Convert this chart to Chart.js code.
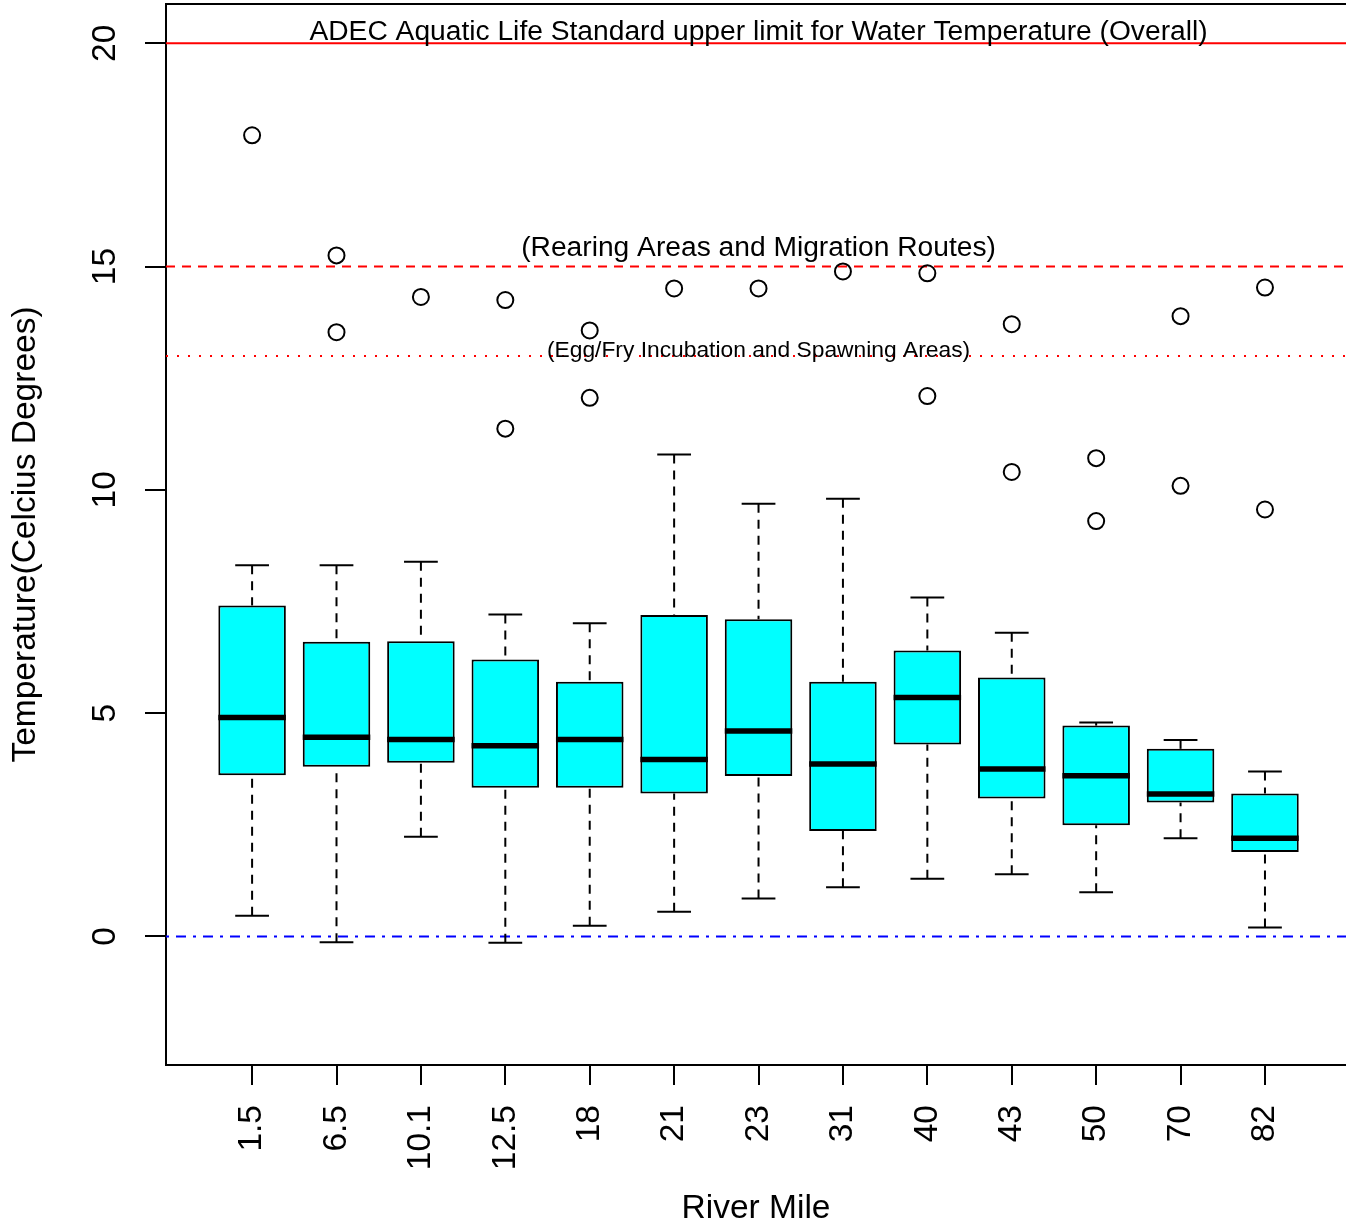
<!DOCTYPE html>
<html>
<head>
<meta charset="utf-8">
<script src="https://cdn.jsdelivr.net/npm/chart.js@4.4.1/dist/chart.umd.min.js"></script>
<style>
html,body{margin:0;padding:0;background:#fff;overflow:hidden;}
#wrap{width:1346px;height:1231px;}
canvas{display:block;}
</style>
</head>
<body>
<div id="wrap"><canvas id="c" width="1346" height="1231"></canvas></div>
<script>
// ---- data ----
const riverMiles  = ['1.5','6.5','10.1','12.5','18','21','23','31','40','43','50','70','82'];
const whiskerLow  = [0.46, -0.13, 2.23, -0.14, 0.24, 0.55, 0.85, 1.10, 1.29, 1.39, 0.99, 2.20, 0.20];
const q1          = [3.61, 3.80, 3.89, 3.33, 3.33, 3.20, 3.59, 2.36, 4.30, 3.09, 2.49, 3.00, 1.89];
const median      = [4.90, 4.46, 4.41, 4.27, 4.41, 3.96, 4.60, 3.86, 5.35, 3.75, 3.60, 3.19, 2.20];
const q3          = [7.41, 6.60, 6.61, 6.20, 5.70, 7.20, 7.10, 5.70, 6.40, 5.80, 4.72, 4.20, 3.20];
const whiskerHigh = [8.31, 8.31, 8.39, 7.21, 7.01, 10.79, 9.69, 9.80, 7.59, 6.80, 4.79, 4.40, 3.69];
const outliers    = [[17.94],[15.25,13.53],[14.32],[14.25,11.37],[13.57,12.06],[14.51],[14.51],
                     [14.89],[14.85,12.10],[13.71,10.40],[10.71,9.30],[13.89,10.09],[14.53,9.56]];
const yTickValues = [0, 5, 10, 15, 20];
const refValues   = [20, 15, 13, 0];
const refLabels   = ['ADEC Aquatic Life Standard upper limit for Water Temperature (Overall)',
                     '(Rearing Areas and Migration Routes)',
                     '(Egg/Fry Incubation and Spawning Areas)'];
const xTitle = 'River Mile';
const yTitle = 'Temperature(Celcius Degrees)';

// ---- build datasets from the arrays ----
const X_MIN = -0.02, X_MAX = 13.96;
const FONT = "'Liberation Sans', Arial, Helvetica, sans-serif";

const boxData = riverMiles.map((m, i) => ({x: i + 1, y: [q1[i], q3[i]]}));
const outlierData = [];
outliers.forEach((arr, i) => arr.forEach(v => outlierData.push({x: i + 1, y: v})));
const refLine = v => [{x: X_MIN, y: v}, {x: X_MAX, y: v}];

const extras = {
  id: 'extras',
  afterDatasetsDraw(chart) {
    const {ctx, scales: {x, y}, chartArea: a} = chart;
    const meta = chart.getDatasetMeta(0);
    ctx.save();
    ctx.strokeStyle = '#000';
    ctx.lineCap = 'butt';
    const seg = (x1, y1, x2, y2) => { ctx.beginPath(); ctx.moveTo(x1, y1); ctx.lineTo(x2, y2); ctx.stroke(); };
    riverMiles.forEach((m, i) => {
      const cx = x.getPixelForValue(i + 1);
      const half = meta.data[i].width / 2;
      const yLo = y.getPixelForValue(whiskerLow[i]);
      const yHi = y.getPixelForValue(whiskerHigh[i]);
      const yQ1 = y.getPixelForValue(q1[i]);
      const yQ3 = y.getPixelForValue(q3[i]);
      const yMed = y.getPixelForValue(median[i]);
      ctx.lineWidth = 2;
      ctx.setLineDash([9, 7]);
      seg(cx, yHi, cx, yQ3);
      seg(cx, yLo, cx, yQ1);
      ctx.setLineDash([]);
      seg(cx - half / 2, yHi, cx + half / 2, yHi);
      seg(cx - half / 2, yLo, cx + half / 2, yLo);
      ctx.lineWidth = 5.5;
      seg(cx - half, yMed, cx + half, yMed);
    });
    // top frame line
    ctx.lineWidth = 2;
    seg(a.left - 1, a.top, chart.width, a.top);
    ctx.restore();
  },
  afterDraw(chart) {
    const {ctx, scales: {x, y}} = chart;
    const cx = x.getPixelForValue((1 + riverMiles.length) / 2);
    ctx.save();
    ctx.fillStyle = '#000';
    ctx.textAlign = 'center';
    ctx.textBaseline = 'alphabetic';
    ctx.font = '28.2px ' + FONT;
    ctx.fillText(refLabels[0], cx, y.getPixelForValue(refValues[0]) - 3);
    ctx.fillText(refLabels[1], cx, y.getPixelForValue(refValues[1]) - 11);
    ctx.font = '22.8px ' + FONT;
    ctx.fillText(refLabels[2], cx, y.getPixelForValue(refValues[2]) + 1);
    ctx.restore();
  }
};

new Chart(document.getElementById('c'), {
  type: 'bar',
  data: {
    datasets: [
      {type: 'bar', data: boxData, backgroundColor: '#00ffff', borderColor: '#000', borderWidth: 2,
       borderSkipped: false, barPercentage: 0.8, categoryPercentage: 1, order: 5},
      {type: 'line', data: refLine(refValues[0]), borderColor: '#ff0000', borderWidth: 2, pointRadius: 0, order: 4},
      {type: 'line', data: refLine(refValues[1]), borderColor: '#ff0000', borderWidth: 2, pointRadius: 0, borderDash: [9, 7], order: 3},
      {type: 'line', data: refLine(refValues[2]), borderColor: '#ff0000', borderWidth: 2, pointRadius: 0, borderDash: [2, 9], order: 2},
      {type: 'line', data: refLine(refValues[3]), borderColor: '#0000ff', borderWidth: 2, pointRadius: 0, borderDash: [3, 7, 10, 7], order: 1},
      {type: 'scatter', data: outlierData, pointStyle: 'circle', pointRadius: 8, borderColor: '#000',
       borderWidth: 2, backgroundColor: 'rgba(0,0,0,0)', order: 0}
    ]
  },
  options: {
    responsive: false,
    animation: false,
    devicePixelRatio: 1,
    events: [],
    layout: {autoPadding: false, padding: {left: 0, right: 0, top: 4, bottom: 0}},
    plugins: {legend: {display: false}, tooltip: {enabled: false}},
    scales: {
      x: {
        type: 'linear', position: 'bottom', min: X_MIN, max: X_MAX, offset: false,
        afterBuildTicks: s => { s.ticks = riverMiles.map((m, i) => ({value: i + 1})); },
        afterFit: s => { s.height = 166; s.paddingLeft = 0; s.paddingRight = 0; s.paddingTop = 0; s.paddingBottom = 0; },
        ticks: {
          autoSkip: false, minRotation: 90, maxRotation: 90, padding: 20, color: '#000',
          font: {family: FONT, size: 33.5},
          callback: v => riverMiles[Math.round(v) - 1] ?? ''
        },
        grid: {drawOnChartArea: false, drawTicks: true, tickLength: 20, color: '#000', lineWidth: 2, offset: false},
        border: {display: true, color: '#000', width: 2},
        title: {display: true, text: xTitle, color: '#000', font: {family: FONT, size: 33.5}, padding: {top: 0, bottom: 2}}
      },
      y: {
        type: 'linear', min: -2.88, max: 20.88,
        afterBuildTicks: s => { s.ticks = yTickValues.map(v => ({value: v})); },
        afterFit: s => { s.width = 166; s.paddingLeft = 0; s.paddingRight = 0; s.paddingTop = 0; s.paddingBottom = 0; },
        ticks: {
          autoSkip: false, minRotation: 90, maxRotation: 90, crossAlign: 'center', padding: 21, color: '#000',
          font: {family: FONT, size: 33.5},
          callback: v => String(v)
        },
        grid: {drawOnChartArea: false, drawTicks: true, tickLength: 21, color: '#000', lineWidth: 2},
        border: {display: true, color: '#000', width: 2},
        title: {display: true, text: yTitle, color: '#000', font: {family: FONT, size: 33.5}, padding: {top: 6, bottom: 0}}
      }
    }
  },
  plugins: [extras]
});
</script>
</body>
</html>
